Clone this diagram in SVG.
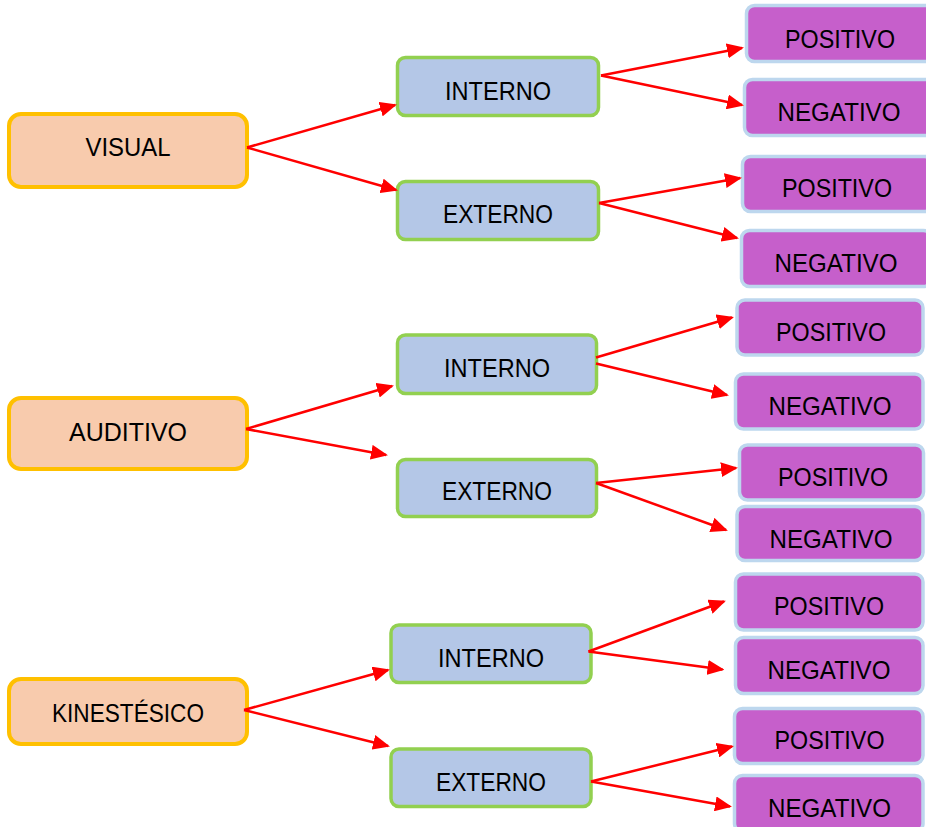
<svg xmlns="http://www.w3.org/2000/svg" width="926" height="827" viewBox="0 0 926 827">
  <style>
    .sense rect { fill: #F8CBAD; stroke: #FFC000; stroke-width: 4; }
    .place rect { fill: #B4C7E7; stroke: #92D050; stroke-width: 3.5; }
    .value rect { fill: #C65FCB; stroke: #BDD7EE; stroke-width: 3.5; }
    text { font-family: "Liberation Sans", Arial, sans-serif; font-size: 26px; fill: #000; text-anchor: middle; }
    #connectors path { fill: none; stroke: #FF0000; stroke-width: 2.5; marker-end: url(#arrow); }
  </style>
  <defs>
    <marker id="arrow" markerUnits="userSpaceOnUse" markerWidth="17" markerHeight="15" refX="15" refY="7.5" orient="auto">
      <path d="M0,0 L17,7.5 L0,15 z" fill="#FF0000"/>
    </marker>
  </defs>
  <rect width="926" height="827" fill="#FFFFFF"/>

  <!-- sensory channels -->
  <g id="visual" class="sense">
    <rect x="9" y="114" width="238" height="73" rx="12"/>
    <text x="128" y="156" textLength="85" lengthAdjust="spacingAndGlyphs">VISUAL</text>
  </g>
  <g id="auditivo" class="sense">
    <rect x="9" y="398" width="238" height="71" rx="12"/>
    <text x="128" y="441" textLength="118" lengthAdjust="spacingAndGlyphs">AUDITIVO</text>
  </g>
  <g id="kinestesico" class="sense">
    <rect x="9" y="679" width="238" height="65" rx="12"/>
    <text x="128" y="722" textLength="152" lengthAdjust="spacingAndGlyphs">KINESTÉSICO</text>
  </g>

  <!-- internal / external -->
  <g id="visual-interno" class="place">
    <rect x="397.5" y="57.5" width="201" height="58" rx="8"/>
    <text x="498" y="100" textLength="106" lengthAdjust="spacingAndGlyphs">INTERNO</text>
  </g>
  <g id="visual-externo" class="place">
    <rect x="397.5" y="181.5" width="201" height="58" rx="8"/>
    <text x="498" y="223" textLength="110" lengthAdjust="spacingAndGlyphs">EXTERNO</text>
  </g>
  <g id="auditivo-interno" class="place">
    <rect x="397.5" y="335" width="199" height="58.5" rx="8"/>
    <text x="497" y="377" textLength="106" lengthAdjust="spacingAndGlyphs">INTERNO</text>
  </g>
  <g id="auditivo-externo" class="place">
    <rect x="397.5" y="459.5" width="199" height="57" rx="8"/>
    <text x="497" y="500" textLength="110" lengthAdjust="spacingAndGlyphs">EXTERNO</text>
  </g>
  <g id="kinestesico-interno" class="place">
    <rect x="391" y="625" width="200" height="57.5" rx="8"/>
    <text x="491" y="667" textLength="106" lengthAdjust="spacingAndGlyphs">INTERNO</text>
  </g>
  <g id="kinestesico-externo" class="place">
    <rect x="391" y="749" width="200" height="57.5" rx="8"/>
    <text x="491" y="791" textLength="110" lengthAdjust="spacingAndGlyphs">EXTERNO</text>
  </g>

  <!-- positive / negative -->
  <g id="vi-positivo" class="value">
    <rect x="746.5" y="5.5" width="190" height="56" rx="8"/>
    <text x="840" y="48" textLength="110" lengthAdjust="spacingAndGlyphs">POSITIVO</text>
  </g>
  <g id="vi-negativo" class="value">
    <rect x="744.5" y="79.5" width="190" height="56" rx="8"/>
    <text x="839" y="121" textLength="123" lengthAdjust="spacingAndGlyphs">NEGATIVO</text>
  </g>
  <g id="ve-positivo" class="value">
    <rect x="742.5" y="156.5" width="190" height="55" rx="8"/>
    <text x="837" y="197" textLength="110" lengthAdjust="spacingAndGlyphs">POSITIVO</text>
  </g>
  <g id="ve-negativo" class="value">
    <rect x="741.5" y="230.5" width="190" height="56" rx="8"/>
    <text x="836" y="272" textLength="123" lengthAdjust="spacingAndGlyphs">NEGATIVO</text>
  </g>
  <g id="ai-positivo" class="value">
    <rect x="737" y="300" width="186" height="55" rx="8"/>
    <text x="831" y="341" textLength="110" lengthAdjust="spacingAndGlyphs">POSITIVO</text>
  </g>
  <g id="ai-negativo" class="value">
    <rect x="735.5" y="374" width="187.5" height="55" rx="8"/>
    <text x="830" y="415" textLength="123" lengthAdjust="spacingAndGlyphs">NEGATIVO</text>
  </g>
  <g id="ae-positivo" class="value">
    <rect x="739.5" y="445" width="184" height="55" rx="8"/>
    <text x="833" y="486" textLength="110" lengthAdjust="spacingAndGlyphs">POSITIVO</text>
  </g>
  <g id="ae-negativo" class="value">
    <rect x="737" y="506.5" width="186" height="54" rx="8"/>
    <text x="831" y="548" textLength="123" lengthAdjust="spacingAndGlyphs">NEGATIVO</text>
  </g>
  <g id="ki-positivo" class="value">
    <rect x="735.5" y="574" width="187.5" height="56" rx="8"/>
    <text x="829" y="615" textLength="110" lengthAdjust="spacingAndGlyphs">POSITIVO</text>
  </g>
  <g id="ki-negativo" class="value">
    <rect x="735.5" y="637.5" width="187.5" height="56" rx="8"/>
    <text x="829" y="679" textLength="123" lengthAdjust="spacingAndGlyphs">NEGATIVO</text>
  </g>
  <g id="ke-positivo" class="value">
    <rect x="734.5" y="708.5" width="188.5" height="55" rx="8"/>
    <text x="829.5" y="749" textLength="110" lengthAdjust="spacingAndGlyphs">POSITIVO</text>
  </g>
  <g id="ke-negativo" class="value">
    <rect x="734.5" y="775.5" width="188.5" height="56" rx="8"/>
    <text x="829.5" y="817" textLength="123" lengthAdjust="spacingAndGlyphs">NEGATIVO</text>
  </g>

  <!-- connectors -->
  <g id="connectors">
    <path d="M247,147.5 L395,105"/>
    <path d="M247,147.5 L396,190"/>
    <path d="M246,429 L392,386"/>
    <path d="M246,429 L386,455"/>
    <path d="M244,710 L388,670"/>
    <path d="M244,710 L388,746"/>

    <path d="M601,75.5 L742,48"/>
    <path d="M601,75.5 L742,105"/>
    <path d="M599,203 L740,178"/>
    <path d="M599,203 L737,238"/>

    <path d="M596,357.5 L732,317.5"/>
    <path d="M596,363.5 L727,395"/>
    <path d="M596,483 L736,468"/>
    <path d="M596,483 L726,530"/>

    <path d="M588.5,651.5 L724,601.5"/>
    <path d="M588.5,651.5 L722.5,669.5"/>
    <path d="M591,781.5 L732,746.5"/>
    <path d="M591,781.5 L730,806.5"/>
  </g>
</svg>
